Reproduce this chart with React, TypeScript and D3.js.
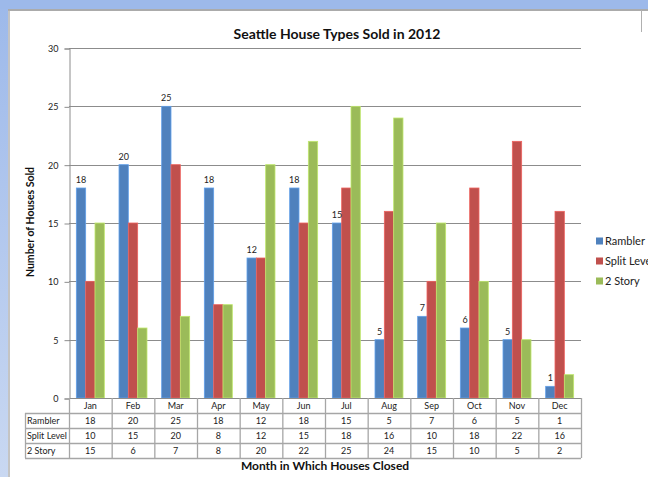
import React, { useEffect, useRef } from 'react';
import * as d3 from 'd3';

const months = ['Jan', 'Feb', 'Mar', 'Apr', 'May', 'Jun', 'Jul', 'Aug', 'Sep', 'Oct', 'Nov', 'Dec'];
const seriesNames = ['Rambler', 'Split Level', '2 Story'];
const rambler = [18, 20, 25, 18, 12, 18, 15, 5, 7, 6, 5, 1];
const splitLevel = [10, 15, 20, 8, 12, 15, 18, 16, 10, 18, 22, 16];
const twoStory = [15, 6, 7, 8, 20, 22, 25, 24, 15, 10, 5, 2];
const colors = ['#4F81BD', '#C0504D', '#9BBB59'];
const yTicks = [0, 5, 10, 15, 20, 25, 30];

const FONT = 'Lato, "Open Sans", sans-serif';

const App = () => {
  const svgRef = useRef<SVGSVGElement>(null);

  useEffect(() => {
    const svg = d3.select(svgRef.current);
    svg.selectAll('*').remove();

    const W = 648, H = 477;
    const left = 69, right = 581, top = 48, bottom = 398;
    const rowH = 15;
    const tableLeft = 25;
    const values = [rambler, splitLevel, twoStory];

    // window chrome
    const grad = svg.append('defs').append('linearGradient')
      .attr('id', 'sideGrad').attr('x1', 0).attr('y1', 0).attr('x2', 0).attr('y2', 1);
    grad.append('stop').attr('offset', '0%').attr('stop-color', '#9DB9EA');
    grad.append('stop').attr('offset', '100%').attr('stop-color', '#C9D8F2');
    svg.append('rect').attr('x', 0).attr('y', 0).attr('width', W).attr('height', H).attr('fill', '#fff');
    svg.append('rect').attr('x', 0).attr('y', 0).attr('width', 8).attr('height', H).attr('fill', 'url(#sideGrad)');
    svg.append('rect').attr('x', 0).attr('y', 0).attr('width', W).attr('height', 9).attr('fill', '#9DB9EA');
    svg.append('line').attr('x1', 8).attr('x2', W).attr('y1', 10).attr('y2', 10)
      .attr('stroke', '#8f8f8f').attr('stroke-width', 1.5);
    svg.append('line').attr('x1', 9).attr('x2', 9).attr('y1', 10).attr('y2', H)
      .attr('stroke', '#b0b0b0').attr('stroke-width', 1.5);
    svg.append('line').attr('x1', 641.5).attr('x2', 641.5).attr('y1', 10).attr('y2', 32)
      .attr('stroke', '#b0b0b0').attr('stroke-width', 1);

    const x0 = d3.scaleBand<string>().domain(months).range([left, right]).padding(0);
    const step = x0.bandwidth();
    const groupPad = step * 0.172;
    const x1 = d3.scaleBand<string>().domain(seriesNames).range([groupPad, step - groupPad]).padding(0);
    const y = d3.scaleLinear().domain([0, 30]).range([bottom, top]);

    // gridlines
    svg.append('g').selectAll('line').data(yTicks.filter(t => t > 0)).join('line')
      .attr('x1', left).attr('x2', right)
      .attr('y1', d => Math.round(y(d)) + 0.5).attr('y2', d => Math.round(y(d)) + 0.5)
      .attr('stroke', '#8c8c8c').attr('stroke-width', 1);

    // y axis
    const yAxis = svg.append('g').attr('transform', `translate(${left + 0.5},0.5)`)
      .call(d3.axisLeft(y).tickValues(yTicks).tickSize(5).tickPadding(6));
    yAxis.selectAll('path, line').attr('stroke', '#8c8c8c');
    yAxis.selectAll('text').attr('font-family', FONT).attr('font-size', 9).attr('fill', '#222');

    // bars
    values.forEach((vals, si) => {
      const c = colors[si];
      svg.append('g').selectAll('rect').data(vals).join('rect')
        .attr('x', (d, i) => (x0(months[i]) as number) + (x1(seriesNames[si]) as number))
        .attr('y', d => y(d))
        .attr('width', x1.bandwidth())
        .attr('height', d => bottom - y(d))
        .attr('fill', c)
        .attr('stroke', d3.color(c)!.brighter(0.6).toString())
        .attr('stroke-width', 0.8);
    });

    // data labels for Rambler
    svg.append('g').selectAll('text').data(rambler).join('text')
      .attr('x', (d, i) => (x0(months[i]) as number) + (x1('Rambler') as number) + x1.bandwidth() / 2)
      .attr('y', d => y(d) - 5)
      .attr('text-anchor', 'middle')
      .attr('font-family', FONT).attr('font-size', 9).attr('fill', '#222')
      .text(d => d);

    // x axis line
    svg.append('line').attr('x1', left).attr('x2', right).attr('y1', bottom + 0.5).attr('y2', bottom + 0.5)
      .attr('stroke', '#8c8c8c');

    // data table
    const tbl = svg.append('g');
    const stroke = '#a6a6a6';
    const rowLabels = ['', ...seriesNames];
    [1, 2, 3, 4].forEach(r => {
      tbl.append('line').attr('x1', tableLeft).attr('x2', right)
        .attr('y1', bottom + r * rowH + 0.5).attr('y2', bottom + r * rowH + 0.5)
        .attr('stroke', stroke).attr('stroke-width', 1.3);
    });
    tbl.append('line').attr('x1', tableLeft + 0.5).attr('x2', tableLeft + 0.5)
      .attr('y1', bottom + rowH).attr('y2', bottom + 4 * rowH).attr('stroke', stroke).attr('stroke-width', 1.3);
    [...months.map(m => x0(m) as number), right].forEach(xv => {
      tbl.append('line').attr('x1', xv + 0.5).attr('x2', xv + 0.5)
        .attr('y1', bottom).attr('y2', bottom + 4 * rowH).attr('stroke', stroke).attr('stroke-width', 1.3);
    });
    tbl.selectAll('text.month').data(months).join('text').attr('class', 'month')
      .attr('x', d => (x0(d) as number) + step / 2)
      .attr('y', bottom + rowH / 2 + 3.5)
      .attr('text-anchor', 'middle')
      .attr('font-family', FONT).attr('font-size', 9).attr('fill', '#222')
      .text(d => d);
    rowLabels.forEach((lab, r) => {
      if (!lab) return;
      tbl.append('text').attr('x', tableLeft + 2).attr('y', bottom + r * rowH + rowH / 2 + 3.5)
        .attr('font-family', FONT).attr('font-size', 9).attr('fill', '#222').text(lab);
      tbl.selectAll(`text.v${r}`).data(values[r - 1]).join('text').attr('class', `v${r}`)
        .attr('x', (d, i) => (x0(months[i]) as number) + step / 2)
        .attr('y', bottom + r * rowH + rowH / 2 + 3.5)
        .attr('text-anchor', 'middle')
        .attr('font-family', FONT).attr('font-size', 9).attr('fill', '#222')
        .text(d => d);
    });

    // titles
    svg.append('text').attr('x', 337).attr('y', 39).attr('text-anchor', 'middle')
      .attr('font-family', FONT).attr('font-weight', 'bold').attr('font-size', 14).attr('fill', '#111')
      .text('Seattle House Types Sold in 2012');
    svg.append('text').attr('x', 325).attr('y', 470).attr('text-anchor', 'middle')
      .attr('font-family', FONT).attr('font-weight', 'bold').attr('font-size', 12).attr('fill', '#111')
      .text('Month in Which Houses Closed');
    svg.append('text').attr('transform', 'translate(34,222) rotate(-90)').attr('text-anchor', 'middle')
      .attr('font-family', FONT).attr('font-weight', 'bold').attr('font-size', 10.5).attr('fill', '#111')
      .text('Number of Houses Sold');

    // legend (the reference clips "Split Level" at the image's right edge)
    seriesNames.forEach((s, i) => {
      const ly = 241 + i * 20;
      svg.append('rect').attr('x', 596).attr('y', ly - 3.5).attr('width', 7).attr('height', 7).attr('fill', colors[i]);
      svg.append('text').attr('x', 605).attr('y', ly + 4)
        .attr('font-family', FONT).attr('font-size', 11).attr('fill', '#222').text(s);
    });
  }, []);

  return (
    <svg ref={svgRef} width={648} height={477}
      style={{ position: 'absolute', left: 0, top: 0, display: 'block' }} />
  );
};

export default App;
